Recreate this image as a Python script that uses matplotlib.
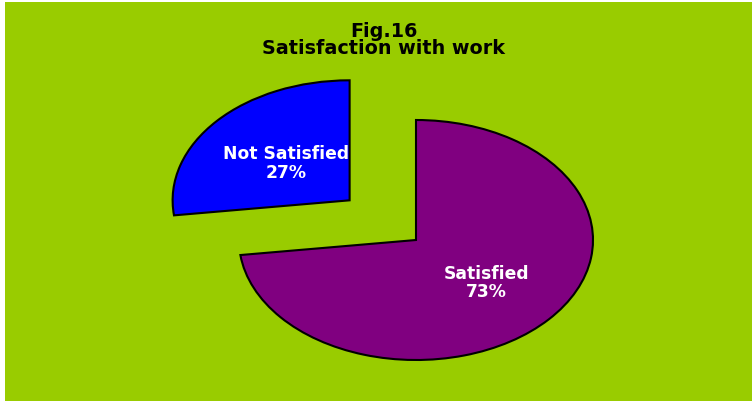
import numpy as np
import matplotlib
matplotlib.use("Agg")
import matplotlib.pyplot as plt

# Donnees
labels = ["Not Satisfied", "Satisfied"]
values = [27, 73]
colors = ["#0000FF", "#800080"]
explode = [0.5, 0]
title = "Fig.16\nSatisfaction with work"

W, H = 752, 402
fig = plt.figure(figsize=(W / 100, H / 100), dpi=100, facecolor="white")
ax = fig.add_axes([5 / W, 0, (W - 5) / W, (H - 3) / H])

wedges, _ = ax.pie(values, colors=colors, explode=explode, startangle=90,
                   counterclock=True,
                   wedgeprops=dict(edgecolor="black", linewidth=1.5))

# pie ellipse : 177 px en x, 120 px en y
rx, ry = 177, 120
cx, cy = 416 - 5, 241 - 3  # centre en pixels dans l'axe
ax.set_aspect("auto")
ax.set_xlim(-cx / rx, (W - 5 - cx) / rx)
ax.set_ylim(-(H - 3 - cy) / ry, cy / ry)
ax.set_frame_on(True)
ax.set_facecolor("#99CC00")
for s in ax.spines.values():
    s.set_visible(False)
ax.set_xticks([])
ax.set_yticks([])

# etiquettes dans les parts
lab_r = [0.48, 0.53]
for w, lab, v, r in zip(wedges, labels, values, lab_r):
    ang = np.deg2rad((w.theta1 + w.theta2) / 2)
    x0, y0 = w.center
    ax.text(x0 + r * np.cos(ang), y0 + r * np.sin(ang), "%s\n%d%%" % (lab, v),
            ha="center", va="center", color="white", fontweight="bold",
            fontsize=12.3, family="DejaVu Sans", linespacing=1.05)

fig.text(384 / W, 1 - 40 / H, title, ha="center", va="center",
         fontsize=13.8, fontweight="bold", family="DejaVu Sans",
         linespacing=0.92)

fig.savefig("out.png", dpi=100, facecolor="white")
